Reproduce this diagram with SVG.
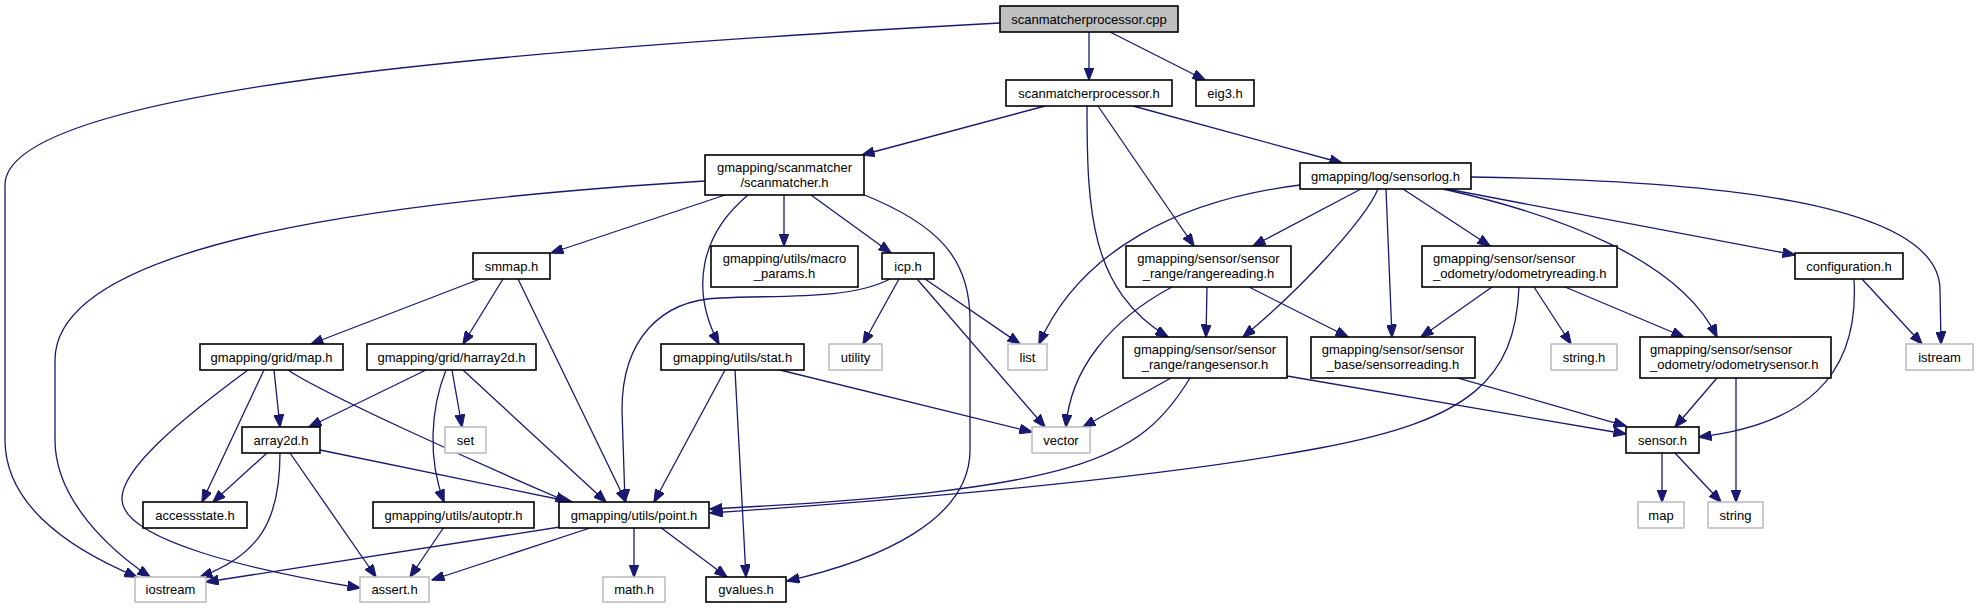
<svg xmlns="http://www.w3.org/2000/svg" width="1977" height="608" viewBox="0 0 1977 608">
<defs>
<marker id="ah" viewBox="0 0 13 10" refX="12.5" refY="5" markerWidth="13" markerHeight="10" markerUnits="userSpaceOnUse" orient="auto">
<path d="M0,0 L13,5 L0,10 z" fill="#191970" stroke="#191970" stroke-width="1"/>
</marker>
<style>
.n rect{fill:#ffffff;stroke:#000000;stroke-width:1.6}
.g rect{fill:#ffffff;stroke:#bfbfbf;stroke-width:1.6}
.r rect{fill:#bfbfbf;stroke:#000000;stroke-width:1.6}
text{font-family:"Liberation Sans",Arial,Helvetica,sans-serif;font-size:13px;fill:#000000;text-anchor:middle}
text.l{text-anchor:start}
#edges path{fill:none;stroke:#191970;stroke-width:1.3;marker-end:url(#ah)}
</style>
</defs>
<rect width="1977" height="608" fill="#ffffff"/>
<g id="edges">
<path d="M1000,23 C500,50 5,90 5,185 L5,440 C5,500 60,545 137,577"/>
<path d="M1089,32 L1089,80"/>
<path d="M1110,32 L1205,80"/>
<path d="M1045,106 L862,155"/>
<path d="M1087,106 C1087,210 1090,290 1168,337"/>
<path d="M1098,106 L1194,246"/>
<path d="M1133,106 L1342,163"/>
<path d="M705,181 C400,200 55,240 55,360 L55,440 C55,500 110,550 150,577"/>
<path d="M725,195 L551,253"/>
<path d="M748,195 C700,235 690,290 719,344"/>
<path d="M784,195 L784,246"/>
<path d="M811,195 L891,253"/>
<path d="M862,194 C940,225 970,260 970,320 L970,450 C970,520 880,560 787,581"/>
<path d="M1300,185 C1180,200 1080,250 1039,344"/>
<path d="M1361,189 L1253,246"/>
<path d="M1378,189 C1365,220 1300,290 1243,337"/>
<path d="M1386,189 L1392,337"/>
<path d="M1403,189 L1490,246"/>
<path d="M1443,189 C1560,215 1680,260 1717,337"/>
<path d="M1447,189 L1795,255"/>
<path d="M1471,177 C1700,180 1940,200 1940,290 L1941,344"/>
<path d="M1172,287 C1110,320 1070,370 1066,427"/>
<path d="M1207,287 L1206,337"/>
<path d="M1249,287 L1348,337"/>
<path d="M1171,378 L1083,427"/>
<path d="M1190,378 C1140,460 1080,490 710,509"/>
<path d="M1287,376 L1626,434"/>
<path d="M1458,378 L1626,426"/>
<path d="M1492,287 L1421,337"/>
<path d="M1519,287 C1515,380 1470,420 1320,448 C1150,480 900,500 710,513"/>
<path d="M1534,287 L1571,344"/>
<path d="M1565,287 L1684,337"/>
<path d="M1717,378 L1675,427"/>
<path d="M1736,378 L1736,502"/>
<path d="M1854,279 C1860,380 1800,425 1699,437"/>
<path d="M1862,279 L1922,344"/>
<path d="M1662,453 L1662,502"/>
<path d="M1675,453 L1721,502"/>
<path d="M480,279 L311,344"/>
<path d="M503,279 L463,344"/>
<path d="M518,279 L626,502"/>
<path d="M890,279 C850,300 780,295 720,298 C660,300 622,340 622,410 L625,502"/>
<path d="M899,279 L863,344"/>
<path d="M917,279 L1045,427"/>
<path d="M925,279 L1020,344"/>
<path d="M725,370 L654,502"/>
<path d="M735,370 L746,577"/>
<path d="M780,370 L1032,432"/>
<path d="M248,370 C180,420 120,470 122,500 C124,540 250,570 360,588"/>
<path d="M264,370 L202,502"/>
<path d="M274,370 L280,427"/>
<path d="M288,370 C320,392 470,460 568,502"/>
<path d="M426,370 L309,427"/>
<path d="M446,370 C430,410 428,460 444,502"/>
<path d="M452,370 L462,427"/>
<path d="M463,370 L606,502"/>
<path d="M267,453 L213,502"/>
<path d="M280,453 C280,520 260,555 200,577"/>
<path d="M290,453 L376,577"/>
<path d="M320,450 L572,502"/>
<path d="M444,527 L410,577"/>
<path d="M560,527 L206,582"/>
<path d="M593,527 L432,580"/>
<path d="M634,527 L634,577"/>
<path d="M660,527 L727,577"/>
</g>
<g id="n1" class="r"><rect x="1000" y="6" width="178" height="26"/><text x="1089" y="23.5">scanmatcherprocessor.cpp</text></g>
<g id="n2" class="n"><rect x="1006" y="80" width="166" height="26"/><text x="1089" y="97.5">scanmatcherprocessor.h</text></g>
<g id="n3" class="n"><rect x="1196" y="80" width="58" height="26"/><text x="1225" y="97.5">eig3.h</text></g>
<g id="n4" class="n"><rect x="705" y="155" width="159" height="40"/><text x="784.5" y="172">gmapping/scanmatcher</text><text x="784.5" y="187">/scanmatcher.h</text></g>
<g id="n5" class="n"><rect x="1300" y="163" width="171" height="26"/><text x="1385.5" y="180.5">gmapping/log/sensorlog.h</text></g>
<g id="n6" class="n"><rect x="473" y="253" width="77" height="26"/><text x="511.5" y="270.5">smmap.h</text></g>
<g id="n7" class="n"><rect x="711" y="246" width="147" height="41"/><text x="784.5" y="263">gmapping/utils/macro</text><text x="784.5" y="278">_params.h</text></g>
<g id="n8" class="n"><rect x="882" y="253" width="52" height="26"/><text x="908" y="270.5">icp.h</text></g>
<g id="n9" class="n"><rect x="1126" y="246" width="165" height="41"/><text x="1208.5" y="263">gmapping/sensor/sensor</text><text x="1208.5" y="278">_range/rangereading.h</text></g>
<g id="n10" class="n"><rect x="1422" y="246" width="195" height="41"/><text class="l" x="1433" y="263">gmapping/sensor/sensor</text><text class="l" x="1433" y="278">_odometry/odometryreading.h</text></g>
<g id="n11" class="n"><rect x="1795" y="253" width="108" height="26"/><text x="1849" y="270.5">configuration.h</text></g>
<g id="n12" class="n"><rect x="200" y="344" width="143" height="26"/><text x="271.5" y="361.5">gmapping/grid/map.h</text></g>
<g id="n13" class="n"><rect x="367" y="344" width="169" height="26"/><text x="451.5" y="361.5">gmapping/grid/harray2d.h</text></g>
<g id="n14" class="n"><rect x="661" y="344" width="143" height="26"/><text x="732.5" y="361.5">gmapping/utils/stat.h</text></g>
<g id="n15" class="g"><rect x="829" y="344" width="53" height="26"/><text x="855.5" y="361.5">utility</text></g>
<g id="n16" class="g"><rect x="1008" y="344" width="39" height="26"/><text x="1027.5" y="361.5">list</text></g>
<g id="n17" class="n"><rect x="1123" y="337" width="164" height="41"/><text x="1205" y="354">gmapping/sensor/sensor</text><text x="1205" y="369">_range/rangesensor.h</text></g>
<g id="n18" class="n"><rect x="1311" y="337" width="164" height="41"/><text x="1393" y="354">gmapping/sensor/sensor</text><text x="1393" y="369">_base/sensorreading.h</text></g>
<g id="n19" class="g"><rect x="1551" y="344" width="66" height="26"/><text x="1584" y="361.5">string.h</text></g>
<g id="n20" class="n"><rect x="1640" y="337" width="191" height="41"/><text class="l" x="1650" y="354">gmapping/sensor/sensor</text><text class="l" x="1650" y="369">_odometry/odometrysensor.h</text></g>
<g id="n21" class="g"><rect x="1906" y="344" width="67" height="26"/><text x="1939.5" y="361.5">istream</text></g>
<g id="n22" class="n"><rect x="242" y="427" width="78" height="26"/><text x="281" y="444.5">array2d.h</text></g>
<g id="n23" class="g"><rect x="445" y="427" width="41" height="26"/><text x="465.5" y="444.5">set</text></g>
<g id="n24" class="g"><rect x="1032" y="427" width="58" height="26"/><text x="1061" y="444.5">vector</text></g>
<g id="n25" class="n"><rect x="1626" y="427" width="73" height="26"/><text x="1662.5" y="444.5">sensor.h</text></g>
<g id="n26" class="n"><rect x="143" y="502" width="104" height="26"/><text x="195" y="519.5">accessstate.h</text></g>
<g id="n27" class="n"><rect x="373" y="502" width="161" height="26"/><text x="453.5" y="519.5">gmapping/utils/autoptr.h</text></g>
<g id="n28" class="n"><rect x="559" y="502" width="150" height="26"/><text x="634" y="519.5">gmapping/utils/point.h</text></g>
<g id="n29" class="g"><rect x="1638" y="502" width="46" height="26"/><text x="1661" y="519.5">map</text></g>
<g id="n30" class="g"><rect x="1708" y="502" width="55" height="26"/><text x="1735.5" y="519.5">string</text></g>
<g id="n31" class="g"><rect x="135" y="577" width="71" height="25"/><text x="170.5" y="594">iostream</text></g>
<g id="n32" class="g"><rect x="360" y="577" width="69" height="25"/><text x="394.5" y="594">assert.h</text></g>
<g id="n33" class="g"><rect x="603" y="577" width="62" height="25"/><text x="634" y="594">math.h</text></g>
<g id="n34" class="n"><rect x="706" y="577" width="80" height="25"/><text x="746" y="594">gvalues.h</text></g>
</svg>
